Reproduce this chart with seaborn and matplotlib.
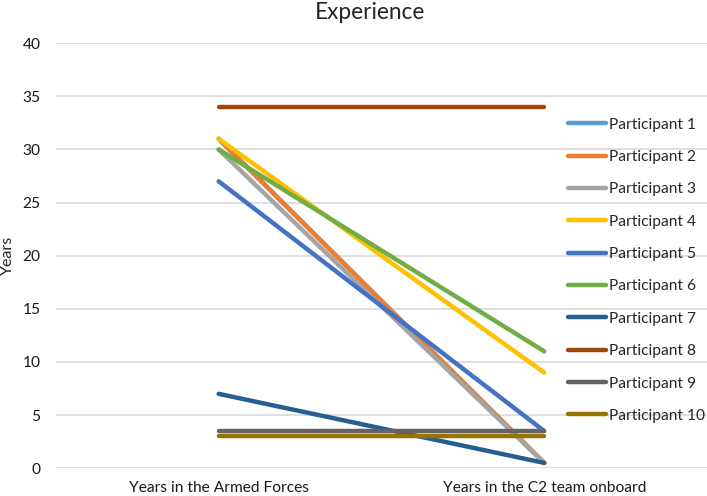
import pandas as pd
import numpy as np
import seaborn as sns
import matplotlib.pyplot as plt

# categories and values
categories = ['Years in the Armed Forces', 'Years in the C2 team onboard']
participants = ['Participant %d' % i for i in range(1, 11)]
armed_forces = [31, 31, 30, 31, 27, 30, 7, 34, 3.5, 3]
c2_team = [0.5, 0.5, 0.5, 9, 3.5, 11, 0.5, 34, 3.5, 3]
colors = ['#5B9BD5', '#ED7D31', '#A5A5A5', '#FFC000', '#4472C4',
          '#70AD47', '#255E91', '#9E480E', '#636363', '#997300']

# long format for seaborn
df = pd.DataFrame({
    'participant': participants * 2,
    'category': [categories[0]] * 10 + [categories[1]] * 10,
    'pos': [0] * 10 + [1] * 10,
    'years': armed_forces + c2_team,
})

sns.set_style('white')
plt.rcParams['font.family'] = ['Lato', 'DejaVu Sans']

fig = plt.figure(figsize=(7.07, 4.96), dpi=100)
ax = fig.add_axes([0.079, 0.056, 0.921, 0.857])

sns.lineplot(data=df, x='pos', y='years', hue='participant', hue_order=participants,
             palette=colors, linewidth=3.2, ax=ax, legend=False,
             solid_capstyle='round', estimator=None)

ax.set_xlim(-0.5, 1.5)
ax.set_ylim(0, 40)
ax.set_yticks(range(0, 41, 5))
ax.set_xticks([0, 1])
ax.set_xticklabels(categories, fontsize=11.2, color='#1a1a1a')
ax.tick_params(axis='y', labelsize=11.2, colors='#1a1a1a', length=0, pad=11)
ax.tick_params(axis='x', length=0, pad=9)
ax.yaxis.grid(True, color='#d9d9d9', linewidth=1.2)
ax.set_axisbelow(True)
for s in ax.spines.values():
    s.set_visible(False)
ax.set_xlabel('')
ax.set_ylabel('Years', fontsize=11.5)
ax.yaxis.set_label_coords(-0.063, 0.5)

handles = [plt.Line2D([], [], color=c, linewidth=3.2) for c in colors]
ax.legend(handles, participants, loc='center left', bbox_to_anchor=(0.803, 0.455),
          bbox_transform=fig.transFigure, frameon=False, fontsize=11.2,
          borderpad=0, borderaxespad=0,
          handlelength=2.45, handletextpad=0.2, labelspacing=1.18)

fig.text(0.523, 0.975, 'Experience', ha='center', va='center', fontsize=16.3)

plt.savefig('out.png', dpi=100)
